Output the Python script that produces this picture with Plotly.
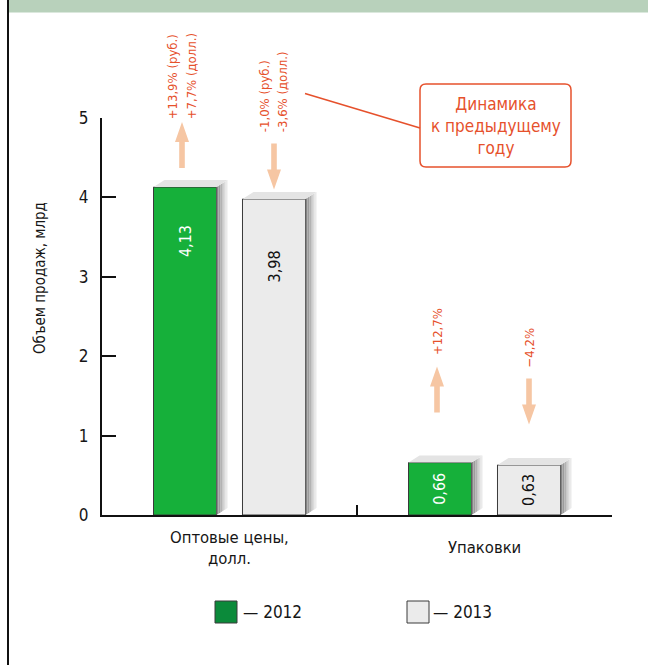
import plotly.graph_objects as go

# ---------------- data ----------------
categories = ["Оптовые цены,<br>долл.", "Упаковки"]
years = ["2012", "2013"]
values_2012 = [4.13, 0.66]
values_2013 = [3.98, 0.63]
labels_2012 = ["4,13", "0,66"]
labels_2013 = ["3,98", "0,63"]
change_2012 = [["+13,9% (руб.)", "+7,7% (долл.)"], ["+12,7%"]]
change_2013 = [["-1,0% (руб.)", "-3,6% (долл.)"], ["\u22124,2%"]]
direction_2012 = ["up", "up"]
direction_2013 = ["down", "down"]
y_ticks = [0, 1, 2, 3, 4, 5]
y_title = "Объем продаж, млрд"
callout = "Динамика<br>к предыдущему<br>году"

# ---------------- layout constants ----------------
W, H = 648, 665
L, R, T, B = 102, 612, 118, 515
XR = (-0.5, 1.5)
YR = (0, 5)
ppx = (R - L) / (XR[1] - XR[0])      # px per x unit
ppy = (B - T) / (YR[1] - YR[0])      # px per y unit

FONT = "DejaVu Sans Condensed, Liberation Sans Narrow, sans-serif"
NARROW = "Liberation Sans Narrow, DejaVu Sans Condensed, sans-serif"
RED = "#e6512c"
ARROW = "#f6c6a3"
GREEN = "#16b03a"
GREEN_LEG = "#0b8a3a"
GRAY = "#ebebeb"
EDGE = "#3a3a3a"
TXT = "#161616"

def pxx(x):
    return (x - L) / (R - L)

def pxy(y):
    return (B - y) / (B - T)

bargap = 0.302
bargroupgap = 0.292
slot = (1 - bargap) / 2
bw = slot * (1 - bargroupgap)
offs = [-slot / 2, slot / 2]

fig = go.Figure()

# 3D shadow faces (computed from bar values)
dx = 11 / ppx
dy = 7 / ppy
shade_cols = ["#858585", "#9c9c9c", "#b3b3b3", "#c8c8c8", "#dadada", "#eaeaea"]
n = len(shade_cols)
all_vals = [values_2012, values_2013]
for k, col in enumerate(shade_cols):
    xs, ys = [], []
    for s, vals in enumerate(all_vals):
        for i, v in enumerate(vals):
            xr = i + offs[s] + bw / 2
            x0 = xr + dx * k / n
            x1 = xr + dx * (k + 1) / n
            y0 = dy * k / n
            y1 = dy * (k + 1) / n
            xs += [x0, x0, x1, x1, x0, None]
            ys += [y0, v + y0, v + y1, y1, y0, None]
    fig.add_trace(go.Scatter(x=xs, y=ys, fill="toself", fillcolor=col,
                             mode="lines", line=dict(width=0),
                             hoverinfo="skip", showlegend=False))
# top faces
xs, ys = [], []
for s, vals in enumerate(all_vals):
    for i, v in enumerate(vals):
        xl = i + offs[s] - bw / 2
        xr = i + offs[s] + bw / 2
        xs += [xl, xl + dx, xr + dx, xr, xl, None]
        ys += [v, v + dy, v + dy, v, v, None]
fig.add_trace(go.Scatter(x=xs, y=ys, fill="toself", fillcolor="#e4e4e4",
                         mode="lines", line=dict(width=0),
                         hoverinfo="skip", showlegend=False))

xpos = list(range(len(categories)))
fig.add_trace(go.Bar(x=xpos, y=values_2012, name=years[0], marker=dict(
    color=GREEN, line=dict(color=EDGE, width=1)), showlegend=False))
fig.add_trace(go.Bar(x=xpos, y=values_2013, name=years[1], marker=dict(
    color=GRAY, line=dict(color=EDGE, width=1)), showlegend=False))

annotations = []
# value labels inside bars
for s, (vals, labs, col) in enumerate([(values_2012, labels_2012, "white"),
                                        (values_2013, labels_2013, "#111111")]):
    for i, v in enumerate(vals):
        ly = v / 2 if v < 1 else v - (0.68 if s == 0 else 0.85)
        annotations.append(dict(x=i + offs[s], y=ly, text=labs[i], textangle=-90,
                                showarrow=False, font=dict(family=FONT, size=16, color=col),
                                xanchor="center", yanchor="middle"))

# arrows (polygons) and change labels
arrow_gap = [0.24, 0.63]
arrow_len = 46 / ppy
head_len = 20 / ppy
head_hw = 7 / ppx
shaft_hw = 2.8 / ppx
line_step = 18.5
axs, ays = [], []
for s, (vals, dirs, texts) in enumerate([(values_2012, direction_2012, change_2012),
                                          (values_2013, direction_2013, change_2013)]):
    for i, v in enumerate(vals):
        xc = i + offs[s] - (3 / ppx if s == 0 else 0)
        base = vals[i] + arrow_gap[i] - (0.0 if dirs[i] == "up" else 0.12)
        top = base + arrow_len
        if dirs[i] == "up":
            hb = top - head_len
            poly = [(xc - shaft_hw, base), (xc - shaft_hw, hb), (xc - head_hw, hb),
                    (xc, top), (xc + head_hw, hb), (xc + shaft_hw, hb),
                    (xc + shaft_hw, base), (xc - shaft_hw, base)]
        else:
            hb = base + head_len
            poly = [(xc - shaft_hw, top), (xc - shaft_hw, hb), (xc - head_hw, hb),
                    (xc, base), (xc + head_hw, hb), (xc + shaft_hw, hb),
                    (xc + shaft_hw, top), (xc - shaft_hw, top)]
        for px_, py_ in poly:
            axs.append(px_)
            ays.append(py_)
        axs.append(None)
        ays.append(None)
        lines = texts[i]
        nl = len(lines)
        for j, t in enumerate(lines):
            shift = (j - (nl - 1) / 2) * line_step
            annotations.append(dict(x=xc, y=top, xshift=shift,
                                    yshift=1 if i == 0 and s == 0 else 9,
                                    text=t, textangle=-90, showarrow=False,
                                    xanchor="center", yanchor="bottom",
                                    font=dict(family=NARROW, size=13, color=RED)))
fig.add_trace(go.Scatter(x=axs, y=ays, fill="toself", fillcolor=ARROW, mode="lines",
                         line=dict(width=0), hoverinfo="skip", showlegend=False))

# category labels
for i, c in enumerate(categories):
    annotations.append(dict(x=i, y=pxy(526), yref="paper", text=c, showarrow=False,
                            xanchor="center", yanchor="top",
                            yshift=-10 if "<br>" not in c else 0,
                            font=dict(family=FONT, size=16.5, color=TXT)))

# y axis title
annotations.append(dict(x=pxx(40), y=pxy(278), xref="paper", yref="paper",
                        text=y_title, textangle=-90, showarrow=False,
                        xanchor="center", yanchor="middle",
                        font=dict(family=FONT, size=15, color=TXT)))

# callout text
annotations.append(dict(x=pxx(495.5), y=pxy(125.5), xref="paper", yref="paper",
                        text=callout, showarrow=False, align="center",
                        xanchor="center", yanchor="middle",
                        font=dict(family=FONT, size=17, color=RED)))

# legend texts
annotations.append(dict(x=pxx(241), y=pxy(612), xref="paper", yref="paper",
                        text="\u2014 " + years[0], showarrow=False, xanchor="left",
                        yanchor="middle", font=dict(family=FONT, size=17, color=TXT)))
annotations.append(dict(x=pxx(431), y=pxy(612), xref="paper", yref="paper",
                        text="\u2014 " + years[1], showarrow=False, xanchor="left",
                        yanchor="middle", font=dict(family=FONT, size=17, color=TXT)))

def rounded_rect(x0, y0, x1, y1, r):
    X = lambda v: pxx(v)
    Y = lambda v: pxy(v)
    return (f"M {X(x0 + r)} {Y(y0)} L {X(x1 - r)} {Y(y0)} Q {X(x1)} {Y(y0)} {X(x1)} {Y(y0 + r)} "
            f"L {X(x1)} {Y(y1 - r)} Q {X(x1)} {Y(y1)} {X(x1 - r)} {Y(y1)} "
            f"L {X(x0 + r)} {Y(y1)} Q {X(x0)} {Y(y1)} {X(x0)} {Y(y1 - r)} "
            f"L {X(x0)} {Y(y0 + r)} Q {X(x0)} {Y(y0)} {X(x0 + r)} {Y(y0)} Z")

shapes = [
    # header band
    dict(type="rect", xref="paper", yref="paper", x0=pxx(8), x1=pxx(648), y0=pxy(0), y1=pxy(12),
         fillcolor="#b8d1bb", line=dict(width=0), layer="below"),
    dict(type="line", xref="paper", yref="paper", x0=pxx(8), x1=pxx(648), y0=pxy(12.5), y1=pxy(12.5),
         line=dict(color="#dbe8dd", width=1)),
    # left frame line
    dict(type="line", xref="paper", yref="paper", x0=pxx(8), x1=pxx(8), y0=pxy(0), y1=pxy(665),
         line=dict(color="#111111", width=2)),
    # callout box & leader
    dict(type="path", xref="paper", yref="paper", path=rounded_rect(420, 84, 571, 167, 6),
         line=dict(color=RED, width=1.5), fillcolor="white"),
    dict(type="line", xref="paper", yref="paper", x0=pxx(305), y0=pxy(93.5), x1=pxx(420), y1=pxy(128),
         line=dict(color=RED, width=1.5)),
    # legend swatches
    dict(type="rect", xref="paper", yref="paper", x0=pxx(215), x1=pxx(237), y0=pxy(601), y1=pxy(623),
         fillcolor=GREEN_LEG, line=dict(color=EDGE, width=1)),
    dict(type="rect", xref="paper", yref="paper", x0=pxx(407), x1=pxx(429), y0=pxy(601), y1=pxy(623),
         fillcolor=GRAY, line=dict(color=EDGE, width=1)),
]

fig.update_layout(
    width=W, height=H,
    margin=dict(l=L, r=W - R, t=T, b=H - B, pad=0),
    paper_bgcolor="white", plot_bgcolor="white",
    barmode="group", bargap=bargap, bargroupgap=bargroupgap,
    showlegend=False,
    xaxis=dict(range=list(XR), tickvals=[-0.5, 0.5, 1.5], ticks="inside", ticklen=10,
               tickwidth=1.5, tickcolor="#111", showticklabels=False, showline=True,
               linecolor="#111", linewidth=2, showgrid=False, zeroline=False, fixedrange=True),
    yaxis=dict(range=list(YR), tickvals=y_ticks, ticks="inside", ticklen=14,
               tickwidth=1.5, tickcolor="#111", showline=True, linecolor="#111",
               linewidth=2, showgrid=False, zeroline=False, ticklabelstandoff=8,
               tickfont=dict(family=FONT, size=17, color=TXT)),
    annotations=annotations,
    shapes=shapes,
)

fig.write_html("out.html", config={"displayModeBar": False},
               post_script="document.body.style.margin='0';document.body.style.overflow='hidden';")
